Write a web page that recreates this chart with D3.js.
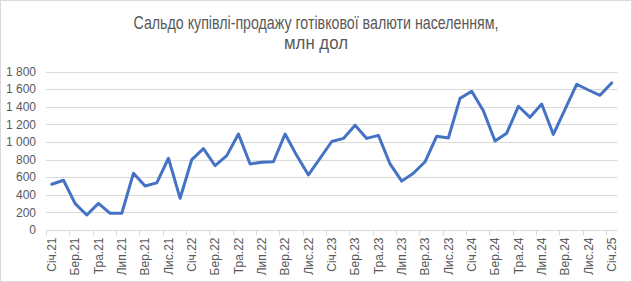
<!DOCTYPE html>
<html><head><meta charset="utf-8">
<script src="https://cdn.jsdelivr.net/npm/d3@7"></script>
<style>html,body{margin:0;padding:0;background:#fff;}svg{display:block;}</style>
</head><body>
<svg id="chart" width="632" height="282"></svg>
<script>
const months = ["Січ","Лют","Бер","Кві","Тра","Чер","Лип","Сер","Вер","Жов","Лис","Гру"];
const categories = [];
for (let y = 21; y <= 25; y++) for (let m = 0; m < 12; m++) {
  if (y === 25 && m > 0) break;
  categories.push(months[m] + "." + y);
}
const values = [520, 565, 300, 170, 303, 190, 190, 645, 500, 535, 815, 360,
  800, 925, 730, 845, 1090, 750, 770, 775, 1090, 845, 625, 815,
  1005, 1040, 1190, 1040, 1075, 750, 555, 645, 775, 1065, 1045, 1495,
  1575, 1355, 1010, 1100, 1405, 1280, 1430, 1085, 1370, 1655, 1590, 1530, 1670];
const yTicks = [0, 200, 400, 600, 800, 1000, 1200, 1400, 1600, 1800];
const titleLines = ["Сальдо купівлі-продажу готівкової валюти населенням,", "млн дол"];

const svg = d3.select("#chart");
const W = 632, H = 282;
svg.append("rect").attr("x", 0.5).attr("y", 0.5).attr("width", W - 1).attr("height", H - 1)
  .attr("fill", "#fff").attr("stroke", "#d9d9d9");

const x = d3.scaleBand().domain(categories).range([46, 617.5]);
const y = d3.scaleLinear().domain([0, 1800]).range([230, 71.5]);

const fmt = v => d3.format(",")(v).replace(/,/g, " ");

// gridlines
svg.append("g").selectAll("line").data(yTicks.slice(1)).join("line")
  .attr("x1", 46).attr("x2", 617.5)
  .attr("y1", d => Math.round(y(d)) + 0.5).attr("y2", d => Math.round(y(d)) + 0.5)
  .attr("stroke", "#d9d9d9").attr("stroke-width", 1);

// y labels
svg.append("g").selectAll("text").data(yTicks).join("text")
  .attr("x", 36).attr("y", d => y(d)).attr("dy", "0.35em")
  .attr("text-anchor", "end").attr("fill", "#595959")
  .style("font-family", "'Liberation Sans', Arial, sans-serif").style("font-size", "12px")
  .text(fmt);

// x axis
const gx = svg.append("g").attr("transform", "translate(0,230.5)");
gx.append("line").attr("x1", 46).attr("x2", 617.5).attr("stroke", "#d9d9d9");
const tickCats = categories.filter((d, i) => i % 2 === 0);
gx.selectAll("line.tk").data(tickCats).join("line").attr("class", "tk")
  .attr("x1", d => Math.round(x(d)) + 0.5).attr("x2", d => Math.round(x(d)) + 0.5)
  .attr("y1", 0).attr("y2", 5).attr("stroke", "#d9d9d9");
gx.selectAll("text").data(tickCats).join("text")
  .attr("transform", d => `translate(${x(d) + x.bandwidth() / 2},7) rotate(-90)`)
  .attr("dy", "0.35em").attr("text-anchor", "end").attr("fill", "#595959")
  .style("font-family", "'Liberation Sans', Arial, sans-serif").style("font-size", "12px")
  .text(d => d);

// line
const line = d3.line().x((d, i) => x(categories[i]) + x.bandwidth() / 2).y(d => y(d));
svg.append("path").datum(values).attr("d", line)
  .attr("fill", "none").attr("stroke", "#4472C4").attr("stroke-width", 3)
  .attr("stroke-linejoin", "round").attr("stroke-linecap", "round");

// title
const t = svg.append("g").attr("fill", "#595959")
  .style("font-family", "'Liberation Sans Narrow', 'Liberation Sans', sans-serif").style("font-size", "18px");
t.append("text").attr("x", 316).attr("y", 28.5).attr("text-anchor", "middle")
  .attr("textLength", 365).attr("lengthAdjust", "spacingAndGlyphs").text(titleLines[0]);
t.append("text").attr("x", 316).attr("y", 49).attr("text-anchor", "middle")
  .attr("textLength", 64).attr("lengthAdjust", "spacingAndGlyphs").text(titleLines[1]);
</script>
</body></html>
